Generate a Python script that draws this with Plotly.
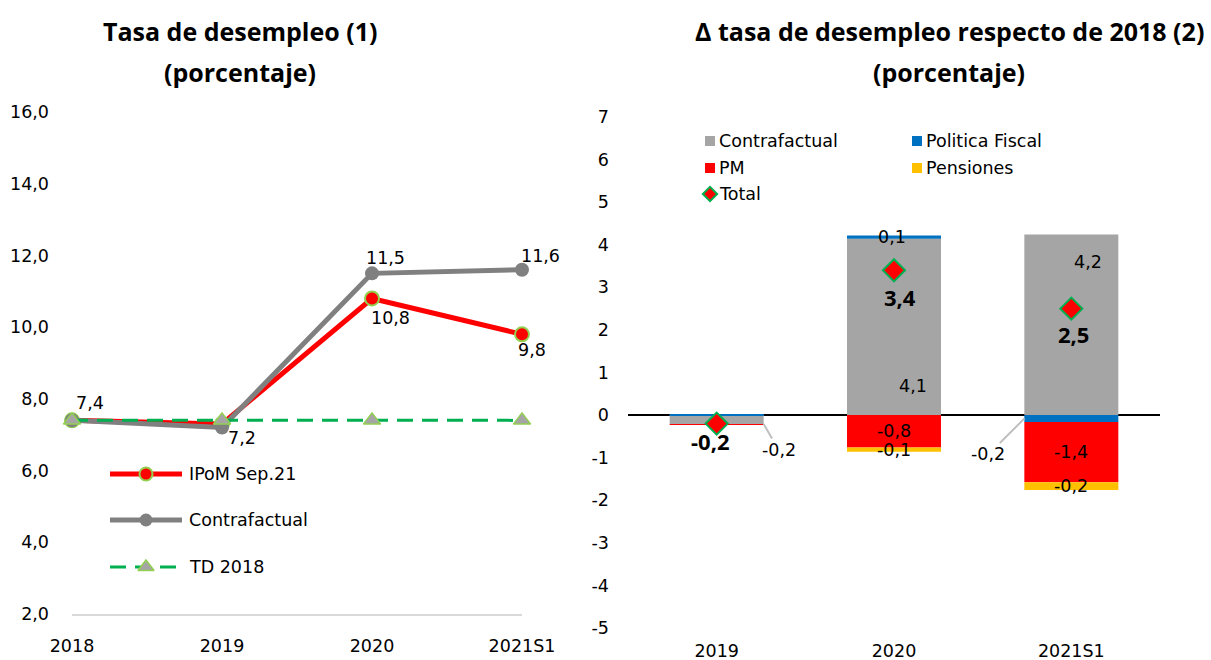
import plotly.graph_objects as go

# ---------------- data: left panel (unemployment rate, %) ----------------
periods_left = ["2018", "2019", "2020", "2021S1"]
ipom_sep21 = [7.4, 7.3, 10.8, 9.8]
contrafactual_rate = [7.4, 7.2, 11.5, 11.6]
td_2018 = [7.4, 7.4, 7.4, 7.4]
left_ticks = [2, 4, 6, 8, 10, 12, 14, 16]

# ---------------- data: right panel (change vs 2018, pp) ----------------
periods_right = ["2019", "2020", "2021S1"]
contrafactual_delta = [-0.21, 4.14, 4.24]
politica_fiscal = [0.02, 0.08, -0.16]
pm = [-0.02, -0.76, -1.42]
pensiones = [0.0, -0.10, -0.18]
total = [-0.2, 3.4, 2.5]
right_ticks = list(range(-5, 8))

# ---------------- styling ----------------
W, H = 1211, 660
TXT = "DejaVu Sans"
TTL = "Open Sans"
C_RED = "#FF0000"
C_GRAY_LINE = "#808080"
C_GRAY_BAR = "#A5A5A5"
C_BLUE = "#0070C0"
C_YELLOW = "#FFC000"
C_GREEN = "#00B050"
C_LIGHTGREEN = "#92D050"
FS = 17.5


def px(x):
    return x / W


def py(y):
    return (H - y) / H


def fmt(v):
    return f"{v:.1f}".replace(".", ",")


fig = go.Figure()

# ---- left panel traces ----
fig.add_trace(go.Scatter(
    x=periods_left, y=ipom_sep21, name="IPoM Sep.21", mode="lines+markers",
    line=dict(color=C_RED, width=5),
    marker=dict(size=14, color=C_RED, line=dict(color=C_LIGHTGREEN, width=2)),
    cliponaxis=False, xaxis="x", yaxis="y", showlegend=False))
fig.add_trace(go.Scatter(
    x=periods_left, y=contrafactual_rate, name="Contrafactual", mode="lines+markers",
    line=dict(color=C_GRAY_LINE, width=5),
    marker=dict(size=14, color=C_GRAY_LINE),
    cliponaxis=False, xaxis="x", yaxis="y", showlegend=False))
fig.add_trace(go.Scatter(
    x=periods_left, y=td_2018, name="TD 2018", mode="lines+markers",
    line=dict(color=C_GREEN, width=3, dash="16px,9px"),
    marker=dict(size=15, symbol="triangle-up", color=C_GRAY_BAR,
                line=dict(color=C_LIGHTGREEN, width=1.5)),
    cliponaxis=False, xaxis="x", yaxis="y", showlegend=False))

# ---- right panel traces (stacked bars + total) ----
for name, vals, col in [("Contrafactual", contrafactual_delta, C_GRAY_BAR),
                        ("Politica Fiscal", politica_fiscal, C_BLUE),
                        ("PM", pm, C_RED),
                        ("Pensiones", pensiones, C_YELLOW)]:
    fig.add_trace(go.Bar(
        x=periods_right, y=vals, name=name, marker=dict(color=col, line=dict(width=0)),
        width=0.53, xaxis="x2", yaxis="y2", showlegend=False))
fig.add_trace(go.Scatter(
    x=periods_right, y=total, name="Total", mode="markers",
    marker=dict(symbol="diamond", size=17, color=C_RED, line=dict(color=C_GREEN, width=2)),
    cliponaxis=False, xaxis="x2", yaxis="y2", showlegend=False))

# ---- legend glyphs drawn on a pixel-space overlay axis ----
left_leg = [
    ("IPoM Sep.21", 474, dict(color=C_RED, width=5),
     dict(size=13, color=C_RED, line=dict(color=C_LIGHTGREEN, width=2))),
    ("Contrafactual", 520, dict(color=C_GRAY_LINE, width=5),
     dict(size=13, color=C_GRAY_LINE)),
    ("TD 2018", 567, dict(color=C_GREEN, width=3, dash="16px,9px"),
     dict(size=14, symbol="triangle-up", color=C_GRAY_BAR,
          line=dict(color=C_LIGHTGREEN, width=1.5))),
]
for label, yy, ln, mk in left_leg:
    fig.add_trace(go.Scatter(x=[110, 182], y=[yy, yy], mode="lines", line=ln,
                             xaxis="x3", yaxis="y3", showlegend=False, hoverinfo="skip"))
    fig.add_trace(go.Scatter(x=[146], y=[yy], mode="markers", marker=mk,
                             xaxis="x3", yaxis="y3", showlegend=False, hoverinfo="skip"))

right_leg = [
    ("Contrafactual", 710, 141, "square", C_GRAY_BAR, None),
    ("Politica Fiscal", 917, 141, "square", C_BLUE, None),
    ("PM", 710, 168, "square", C_RED, None),
    ("Pensiones", 917, 168, "square", C_YELLOW, None),
    ("Total", 710, 194, "diamond", C_RED, C_GREEN),
]
for label, xx, yy, sym, col, outline in right_leg:
    mk = dict(symbol=sym, size=10 if sym == "square" else 11, color=col,
              line=dict(color=outline or col, width=2 if outline else 0))
    fig.add_trace(go.Scatter(x=[xx], y=[yy], mode="markers", marker=mk,
                             xaxis="x3", yaxis="y3", showlegend=False, hoverinfo="skip"))

annotations = []

# legend texts
for label, yy, *_ in left_leg:
    annotations.append(dict(x=187, y=yy, xref="x3", yref="y3", text=label, showarrow=False,
                            xanchor="left", yanchor="middle", font=dict(family=TXT, size=FS)))
for label, xx, yy, *_ in right_leg:
    annotations.append(dict(x=xx + 7, y=yy, xref="x3", yref="y3", text=label, showarrow=False,
                            xanchor="left", yanchor="middle", font=dict(family=TXT, size=FS)))

# titles
for txt, cx in [("Tasa de desempleo (1)", 240),
                ("Δ tasa de desempleo respecto de 2018 (2)", 949)]:
    annotations.append(dict(x=px(cx), y=py(31), xref="paper", yref="paper", text=f"<b>{txt}</b>",
                            showarrow=False, xanchor="center", yanchor="middle",
                            font=dict(family=TTL, size=25)))
    annotations.append(dict(x=px(cx), y=py(72), xref="paper", yref="paper",
                            text="<b>(porcentaje)</b>", showarrow=False, xanchor="center",
                            yanchor="middle", font=dict(family=TTL, size=25)))

# left panel value labels (x given as category index)
left_labels = [
    (contrafactual_rate, 0, 18, 17), (contrafactual_rate, 1, 20, -10),
    (contrafactual_rate, 2, 13, 15), (contrafactual_rate, 3, 18, 14),
    (ipom_sep21, 2, 18, -20), (ipom_sep21, 3, 10, -16),
]
for series, i, dx, dy in left_labels:
    annotations.append(dict(x=i, y=series[i], xref="x", yref="y",
                            text=fmt(series[i]), showarrow=False, xshift=dx, yshift=dy,
                            font=dict(family=TXT, size=FS)))

# right panel value labels (x given as category index)
lab_font = dict(family=TXT, size=FS)
bold_font = dict(family=TTL, size=22)
right_labels = [
    # 2020
    dict(x=1, y=0, text=fmt(contrafactual_delta[1]), xshift=19, yshift=29, font=lab_font),
    dict(x=1, y=contrafactual_delta[1] + politica_fiscal[1], text=fmt(politica_fiscal[1]),
         xshift=-2, yshift=-2, font=lab_font),
    dict(x=1, y=pm[1] / 2, text=fmt(pm[1]), font=lab_font),
    dict(x=1, y=pm[1] + pensiones[1] / 2, text=fmt(pensiones[1]), font=lab_font),
    dict(x=1, y=total[1], text=f"<b>{fmt(total[1])}</b>", xshift=6, yshift=-27,
         font=bold_font),
    # 2021S1
    dict(x=2, y=contrafactual_delta[2], text=fmt(contrafactual_delta[2]), xshift=17,
         yshift=-27, font=lab_font),
    dict(x=2, y=politica_fiscal[2] + pm[2] / 2, text=fmt(pm[2]), font=lab_font),
    dict(x=2, y=politica_fiscal[2] + pm[2] + pensiones[2] / 2, text=fmt(pensiones[2]),
         font=lab_font),
    dict(x=2, y=total[2], text=f"<b>{fmt(total[2])}</b>", xshift=2, yshift=-25,
         font=bold_font),
    # 2019
    dict(x=0, y=total[0], text=f"<b>{fmt(total[0])}</b>", xshift=-6, yshift=-17,
         font=bold_font),
]
for a in right_labels:
    a.update(xref="x2", yref="y2", showarrow=False)
annotations += right_labels

# callout labels with leader lines
annotations.append(dict(x=0.265, y=contrafactual_delta[0], xref="x2", yref="y2",
                        text=fmt(contrafactual_delta[0]), showarrow=True, arrowhead=0,
                        arrowwidth=2, arrowcolor="#BFBFBF", ax=15, ay=26, font=lab_font))
annotations.append(dict(x=2 - 0.265, y=politica_fiscal[2] / 2, xref="x2", yref="y2",
                        text=fmt(politica_fiscal[2]), showarrow=True, arrowhead=0,
                        arrowwidth=2, arrowcolor="#BFBFBF", ax=-36, ay=36, font=lab_font))

fig.update_layout(
    width=W, height=H,
    margin=dict(l=0, r=0, t=0, b=0, autoexpand=False),
    paper_bgcolor="white", plot_bgcolor="rgba(0,0,0,0)",
    font=dict(family=TXT, size=FS, color="black"),
    barmode="relative",
    showlegend=False,
    annotations=annotations,
    xaxis=dict(domain=[px(72), px(522)], anchor="y", type="category", categoryorder="array",
               categoryarray=periods_left, range=[0, 3], showgrid=False, zeroline=False,
               showline=True, linecolor="#D9D9D9", linewidth=1.5, ticks="",
               ticklabelstandoff=15, automargin=False, tickfont=dict(family=TXT, size=FS)),
    yaxis=dict(domain=[py(614), py(112)], anchor="x", range=[2, 16], tickvals=left_ticks,
               ticktext=[fmt(t) for t in left_ticks], showgrid=False, zeroline=False,
               showline=False, ticks="", ticklabelstandoff=22, automargin=False,
               tickfont=dict(family=TXT, size=FS)),
    xaxis2=dict(domain=[px(628), px(1160)], anchor="y2", type="category",
                categoryorder="array", categoryarray=periods_right, range=[-0.5, 2.5],
                showgrid=False, zeroline=False, showline=False, ticks="",
                ticklabelstandoff=10, automargin=False, tickfont=dict(family=TXT, size=FS)),
    yaxis2=dict(domain=[py(628), py(117)], anchor="x2", range=[-5, 7], tickvals=right_ticks,
                ticktext=[str(t) for t in right_ticks],
                showgrid=False, zeroline=True, zerolinecolor="black", zerolinewidth=1.5,
                showline=False, ticks="", ticklabelstandoff=18, automargin=False,
                tickfont=dict(family=TXT, size=FS)),
    xaxis3=dict(domain=[0, 1], anchor="y3", range=[0, W], visible=False, fixedrange=True),
    yaxis3=dict(domain=[0, 1], anchor="x3", range=[H, 0], visible=False, fixedrange=True),
    separators=",.",
)

fig.write_html("out.html")
